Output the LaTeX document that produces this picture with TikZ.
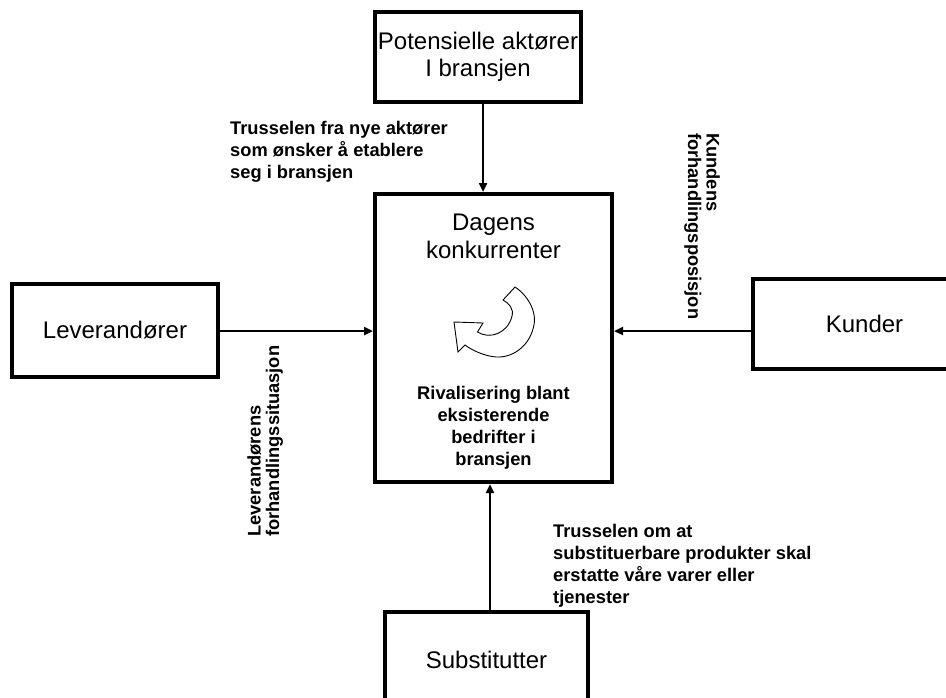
\documentclass[tikz,border=0pt]{standalone}
\usepackage{fontspec}
\setmainfont{Liberation Sans}
\usetikzlibrary{arrows.meta}
\begin{document}
\begin{tikzpicture}[x=1pt,y=-1pt,
  box/.style={draw, line width=4pt, inner sep=0pt, outer sep=2pt, fill=white},
  plain/.style={font=\fontsize{24}{27.5}\selectfont, align=center},
  lbl/.style={font=\bfseries\fontsize{18.3}{22}\selectfont, align=left, inner sep=0pt},
  vlbl/.style={font=\bfseries\fontsize{18.3}{18.5}\selectfont, align=left, inner sep=0pt},
  flow/.style={line width=2.8pt, -{Triangle[length=9pt,width=8pt]}}]
\useasboundingbox (0,0) rectangle (946,697);
\clip (0,0) rectangle (946,697);

% the five forces
\node[box, plain, minimum width=206pt, minimum height=90pt] (entrants) at (478,57) {Potensielle aktører\\I bransjen};
\node[box, minimum width=237pt, minimum height=288pt] (rivals) at (493.5,338) {};
\node[box, plain, minimum width=206pt, minimum height=93pt] (suppliers) at (115,330.5) {Leverandører};
\node[box, plain, minimum width=223pt, minimum height=90pt] (buyers) at (864.5,324) {Kunder};
\node[box, plain, minimum width=203pt, minimum height=95pt] (substitutes) at (486.5,659.5) {Substitutter};

% text inside the central box (anchored at the last line's baseline)
\node[plain, anchor=base, inner sep=0pt] (rivname) at (493.5,258) {Dagens\\konkurrenter};
\node[lbl, align=center, anchor=base] (rivtext) at (493.5,465) {Rivalisering blant\\eksisterende\\bedrifter i\\bransjen};

% rotating arrow symbol
\draw[line width=0.9pt, fill=white]
  (454,322) -- (483,323) -- (477.5,332)
  .. controls (490,340) and (508,333) .. (512,316)
  .. controls (514,309) and (509,303) .. (503,300)
  -- (515,287)
  .. controls (530,297) and (538,315) .. (533,329)
  .. controls (528,347) and (512,358) .. (496,357)
  .. controls (485,356) and (473,351) .. (465,345)
  -- (458,352) -- cycle;

% force labels
\node[lbl, anchor=base west] (newthreat) at (230,178) {Trusselen fra nye aktører\\som ønsker å etablere\\seg i bransjen};
\node[lbl, anchor=base west] (subthreat) at (553,603) {Trusselen om at\\substituerbare produkter skal\\erstatte våre varer eller\\tjenester};
\node[vlbl, rotate=-90, anchor=base west] (buyerpow) at (688,133) {Kundens\\forhandlingsposisjon};
\node[vlbl, rotate=90, anchor=base west] (supplierpow) at (279,537) {Leverandørens\\forhandlingssituasjon};

% connectors
\coordinate (topx) at (483,0);
\coordinate (botx) at (490,0);
\coordinate (midy) at (0,331);
\draw[flow] (entrants.south -| topx) -- (rivals.north -| topx);
\draw[flow] (substitutes.north -| botx) -- (rivals.south -| botx);
\draw[flow] (suppliers.east |- midy) -- (rivals.west |- midy);
\draw[flow] (buyers.west |- midy) -- (rivals.east |- midy);
\end{tikzpicture}
\end{document}
